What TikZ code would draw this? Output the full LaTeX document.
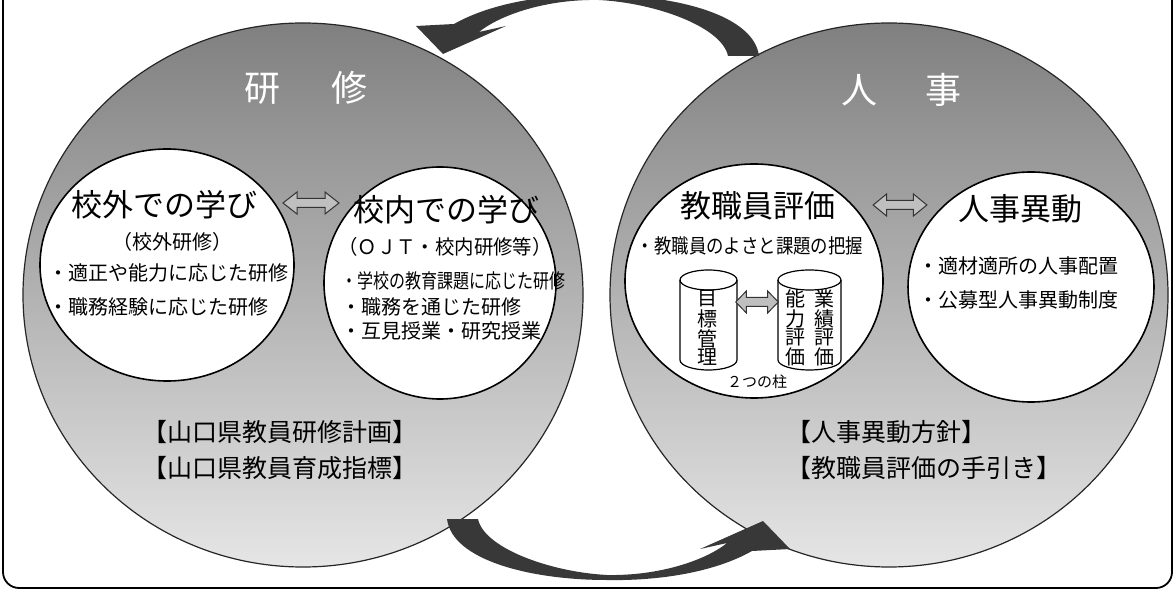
\documentclass[tikz,border=0pt]{standalone}
\usepackage{fontspec}
\newfontfamily\jp{Noto Sans CJK JP}
\usetikzlibrary{shapes.geometric}
\tikzset{
  bigcirc/.style={ellipse, inner sep=0pt, top color=black!50, bottom color=black!10, draw=black!85, line width=0.6pt},
  smallcirc/.style={ellipse, inner sep=0pt, draw=black, fill=white, line width=0.8pt},
  ttl/.style={text=white, inner sep=0pt, font=\jp\fontsize{18}{18}\selectfont},
  head/.style={inner sep=0pt, font=\jp\fontsize{15.5}{15.5}\selectfont},
  sub/.style={inner sep=0pt, font=\jp\fontsize{10}{10}\selectfont},
  item/.style={inner sep=0pt, anchor=west, font=\jp\fontsize{10}{10}\selectfont},
  foot/.style={inner sep=0pt, anchor=west, font=\jp\fontsize{12.5}{12.5}\selectfont},
  vtxt/.style={inner sep=0pt, align=center, font=\jp\fontsize{10}{9}\selectfont},
  bigarrow/.style={fill=black!78},
  dbl/.pic={\draw[fill=black!25, draw=black!80, line width=0.5pt]
     (-28,0) -- (-14,-11) -- (-14,-4.5) -- (14,-4.5) -- (14,-11) -- (28,0)
     -- (14,11) -- (14,4.5) -- (-14,4.5) -- (-14,11) -- cycle;}
}
\begin{document}
\begin{tikzpicture}[x=0.5pt,y=-0.5pt]
\useasboundingbox (0,0) rectangle (1176,592);
\clip (0,0) rectangle (1176,592);
\fill[white] (0,0) rectangle (1176,592);
% frame
\draw[line width=0.9pt, rounded corners=8pt] (3,-40) rectangle (1172,588);

% big circles
\node[bigcirc, minimum width=280pt, minimum height=272pt] (L) at (303,295) {};
\node[bigcirc, minimum width=279pt, minimum height=272pt] (R) at (889,295) {};

% titles
\node[ttl] (tL) at (306,88) {研\hspace{26pt}修};
\node[ttl] (tR) at (901,90) {人\hspace{24pt}事};

% small circles
\node[smallcirc, minimum width=127pt, minimum height=116pt] (c1) at (167,265) {};
\node[smallcirc, minimum width=116pt, minimum height=116pt] (c2) at (440,283) {};
\node[smallcirc, minimum width=129pt, minimum height=117pt] (c3) at (754,281) {};
\node[smallcirc, minimum width=123pt, minimum height=115pt] (c4) at (1031,287) {};

% double arrows between circles
\pic at (311,203) {dbl};
\pic[xscale=0.96] at (900,205) {dbl};

% circle 1
\node[head] (h1) at (164,205) {校外での学び};
\node[sub] (s1) at (172,242) {（校外研修）};
\node[item] (i11) at (48,273) {・適正や能力に応じた研修};
\node[item] (i12) at (48,307) {・職務経験に応じた研修};

% circle 2
\node[head] (h2) at (446,210) {校内での学び};
\node[sub] (s2) at (445,247) {\scalebox{0.97}[1]{（ＯＪＴ・校内研修等）}};
\node[item] (i21) at (341,281) {\scalebox{0.8}[1]{・学校の教育課題に応じた研修}};
\node[item] (i22) at (341,307) {・職務を通じた研修};
\node[item] (i23) at (341,331) {・互見授業・研究授業};

% circle 3
\node[head] (h3) at (758,206) {教職員評価};
\node[sub] (s3) at (750,246) {\scalebox{0.87}[1]{・教職員のよさと課題の把握}};

% cylinders
\draw[fill=white, line width=0.6pt] (680,280) -- (680,360) arc[start angle=180,end angle=0,x radius=28.5,y radius=10]
  -- (737,280) arc[start angle=0,end angle=-180,x radius=28.5,y radius=10] -- cycle;
\draw[line width=0.6pt] (680,280) arc[start angle=180,end angle=0,x radius=28.5,y radius=10];
\draw[fill=white, line width=0.6pt] (778,280) -- (778,360) arc[start angle=180,end angle=0,x radius=31.5,y radius=10]
  -- (841,280) arc[start angle=0,end angle=-180,x radius=31.5,y radius=10] -- cycle;
\draw[line width=0.6pt] (778,280) arc[start angle=180,end angle=0,x radius=31.5,y radius=10];
\node[vtxt] (v1) at (707,328) {目\\標\\管\\理};
\node[vtxt] (v2) at (824,328) {業\\績\\評\\価};
\node[vtxt] (v3) at (795,328) {能\\力\\評\\価};
\pic[xscale=0.76, yscale=1] at (757,302) {dbl};
\node[inner sep=0pt, font=\jp\fontsize{7.5}{7.5}\selectfont] (pl) at (757,382) {２つの柱};

% circle 4
\node[head] (h4) at (1020,209) {人事異動};
\node[item] (i41) at (918,266) {・適材適所の人事配置};
\node[item] (i42) at (918,300) {・公募型人事異動制度};

% footers
\node[foot] (f1) at (142,432) {【山口県教員研修計画】};
\node[foot] (f2) at (142,468) {【山口県教員育成指標】};
\node[foot] (f3) at (786,432) {【人事異動方針】};
\node[foot] (f4) at (786,468) {【教職員評価の手引き】};

% curved arrows (bottom: L -> R, top: R -> L)
\def\arrowshape{(447,519) -- (478,519)
  .. controls (484,548) and (550,572) .. (607,575)
  .. controls (660,576) and (706,560) .. (727,543)
  -- (700,549) -- (763,521) -- (790,549) -- (752,551)
  .. controls (715,572) and (660,581) .. (607,580)
  .. controls (530,580) and (452,560) .. (447,519) -- cycle}
\fill[bigarrow] \arrowshape;
\begin{scope}[rotate around={180:(603,287.5)}]
\fill[bigarrow] \arrowshape;
\end{scope}
\end{tikzpicture}
\end{document}
